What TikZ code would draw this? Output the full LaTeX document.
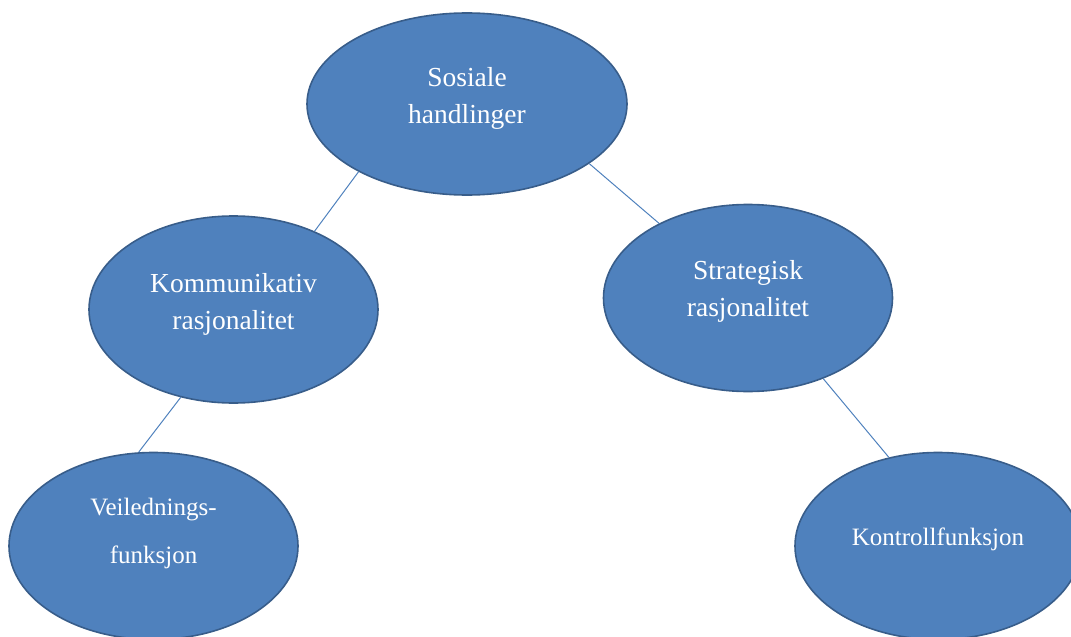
\documentclass[tikz,border=0pt]{standalone}
\usepackage{fontspec}
\setmainfont{Liberation Serif}
\definecolor{blobfill}{HTML}{4F81BD}
\definecolor{blobedge}{HTML}{385D8A}
\tikzset{
  blob/.style={ellipse,fill=blobfill,draw=blobedge,line width=1.6pt,inner sep=0pt,
    minimum width=289pt,minimum height=187pt},
  bigtxt/.style={text=white,align=center,font=\fontsize{27.5}{37}\selectfont},
  smalltxt/.style={text=white,align=center,font=\fontsize{25}{48}\selectfont},
  link/.style={draw=blobfill,line width=1pt}
}
\usetikzlibrary{shapes.geometric}

\begin{document}
\begin{tikzpicture}[x=1pt,y=-1pt]
        \clip (0,0) rectangle (1071,637);
        \useasboundingbox (0,0) rectangle (1071,637);
        % ellipses
        \node[blob,minimum width=320pt,minimum height=182pt] (sosial) at (467,104) {};
        \node[blob] (komm) at (233.5,309.5) {};
        \node[blob] (strat) at (748,298) {};
        \node[blob] (veil) at (153.5,546) {};
        \node[blob,minimum width=286pt] (kontr) at (938,546) {};
        % texts
        \node[bigtxt] (sosialtxt) at ([yshift=6pt]sosial) {Sosiale\\handlinger};
        \node[bigtxt] (kommtxt) at ([yshift=5pt]komm) {Kommunikativ\\rasjonalitet};
        \node[bigtxt] (strattxt) at ([yshift=7pt]strat) {Strategisk\\rasjonalitet};
        \node[smalltxt] (veiltxt) at ([yshift=12.5pt]veil) {Veilednings-\\funksjon};
        \node[smalltxt] (kontrtxt) at ([yshift=7pt]kontr) {Kontrollfunksjon};
        % connectors
        \draw[link] (sosial.212.8) -- (komm.44.3);
        \draw[link] (sosial.334.4) -- (strat.140.2);
        \draw[link] (komm.239.3) -- (veil.99.2);
        \draw[link] (strat.313.6) -- (kontr.119.3);
      \end{tikzpicture}
\end{document}
